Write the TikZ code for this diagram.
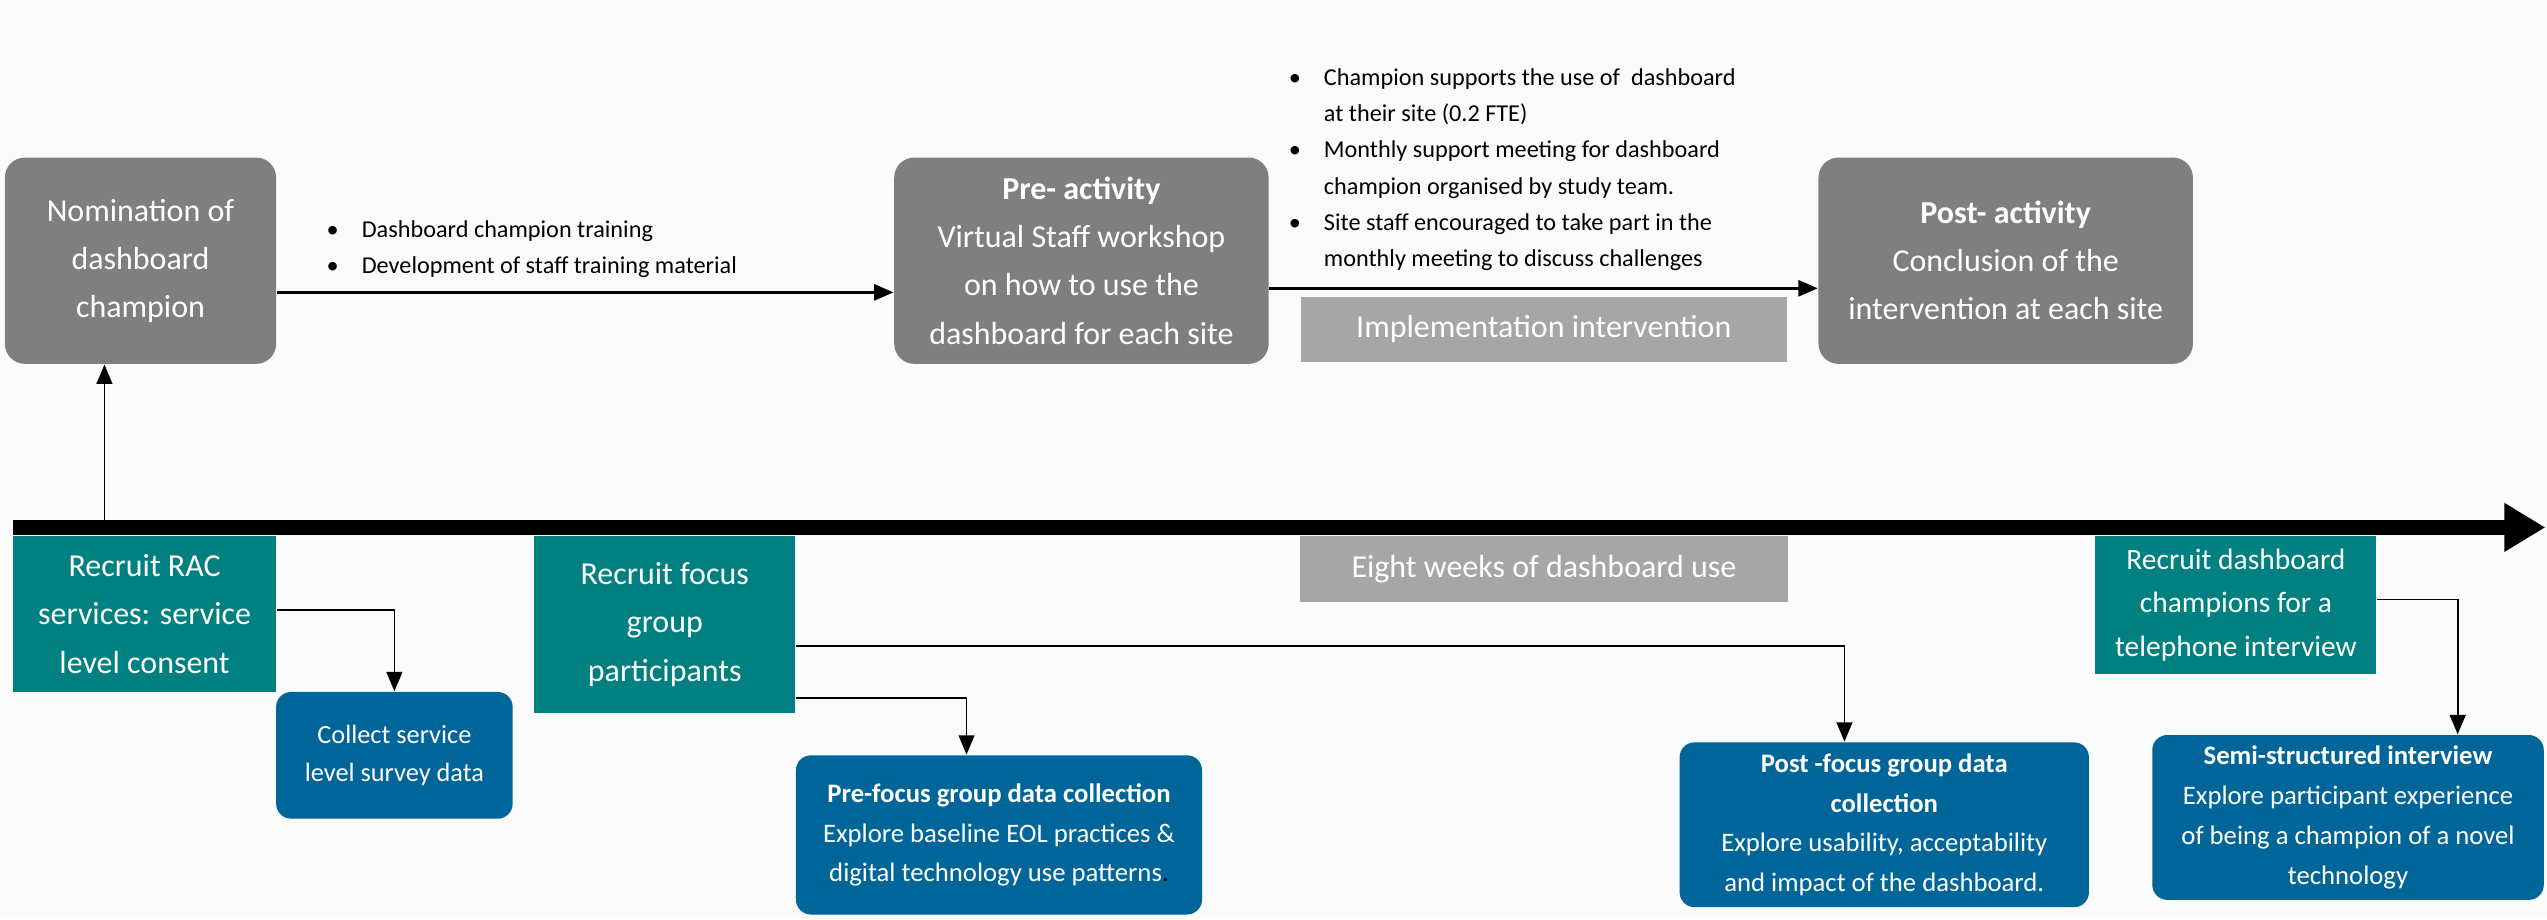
\documentclass[tikz,border=0pt]{standalone}
\usepackage{fontspec}
\setmainfont{Carlito}
\usetikzlibrary{arrows.meta}

\definecolor{stagegray}{RGB}{127,127,127}
\definecolor{periodgray}{RGB}{166,166,166}
\definecolor{recruitteal}{RGB}{0,128,128}
\definecolor{datablue}{RGB}{0,102,153}
\definecolor{paper}{RGB}{251,251,251}

\newcommand{\px}{0.016244cm}
\newcommand{\bul}{\makebox[10pt][l]{\textbullet}}
\newcommand{\bulgap}{\hspace*{10pt}}

\begin{document}
\begin{tikzpicture}[x=\px,y=-\px,
  boxwh/.style 2 args={minimum width=#1*\px,minimum height=#2*\px},
  stagebox/.style={fill=stagegray,text=white,rounded corners=0.2cm,inner sep=0pt,align=center,font=\fontsize{9.1}{13.7}\selectfont},
  periodbox/.style={fill=periodgray,text=white,inner sep=0pt,font=\fontsize{9.1}{13.7}\selectfont},
  recruitbox/.style={fill=recruitteal,text=white,inner sep=0pt,align=center,font=\fontsize{9.1}{13.7}\selectfont},
  databox/.style={fill=datablue,text=white,rounded corners=0.15cm,inner sep=0pt,align=center,font=\fontsize{7.6}{11.3}\selectfont},
  bullets/.style={inner sep=0pt,anchor=base west,align=left,font=\fontsize{6.9}{10.3}\selectfont},
  conn/.style={-{Triangle[length=5.5pt,width=4.5pt]},line width=0.5pt}]
\path[use as bounding box,fill=paper] (0,0) rectangle (1568,566);

% implementation stages
\node[stagebox,boxwh={167}{127}] (nom) at (86.5,160.5) {Nomination of\\dashboard\\champion};
\node[stagebox,boxwh={230.5}{127}] (pre) at (665.75,160.5) {\textbf{Pre- activity}\\Virtual Staff workshop\\on how to use the\\dashboard for each site};
\node[stagebox,boxwh={230.5}{127}] (post) at (1234.75,160.5) {\textbf{Post- activity}\\Conclusion of the\\intervention at each site};
\node[periodbox,boxwh={299.2}{40}] (impl) at (950.4,202.6) {Implementation intervention};
\node[periodbox,boxwh={301}{40.4}] (eight) at (950.5,350.2) {Eight weeks of dashboard use};

% notes, placed at the baseline of their last line
\node[bullets] (trainnotes) at (200.7,168.5) {\bul Dashboard champion training\\\bul Development of staff training material};
\node[bullets] (supportnotes) at (793,164) {\bul Champion supports the use of~ dashboard\\\bulgap at their site (0.2 FTE)\\\bul Monthly support meeting for dashboard\\\bulgap champion organised by study team.\\\bul Site staff encouraged to take part in the\\\bulgap monthly meeting to discuss challenges};

% recruitment and data collection
\node[recruitbox,boxwh={162}{96}] (rac) at (89,378) {Recruit RAC\\services: service\\level consent};
\node[recruitbox,boxwh={160.5}{109}] (focus) at (409.25,384.5) {Recruit focus\\group\\participants};
\node[recruitbox,boxwh={173}{85},font=\fontsize{8.4}{12.5}\selectfont] (champ) at (1376.5,372.5) {Recruit dashboard\\champions for a\\telephone interview};

\node[databox,boxwh={145.6}{78},font=\fontsize{7.5}{10.9}\selectfont] (survey) at (242.8,465) {Collect service\\level survey data};
\node[databox,boxwh={250}{98}] (prefg) at (615,514) {\textbf{Pre-focus group data collection}\\Explore baseline EOL practices \&\\digital technology use patterns\textcolor{black}{.}};
\node[databox,boxwh={252}{101.5}] (postfg) at (1160,507.75) {\textbf{Post -focus group data}\\\textbf{collection}\\Explore usability, acceptability\\and impact of the dashboard.};
\node[databox,boxwh={241}{101.5}] (interview) at (1445.5,503.25) {\textbf{Semi-structured interview}\\Explore participant experience\\of being a champion of a novel\\technology};

% timeline
\coordinate (tlstart) at (7.8,324.7);
\coordinate (tlend) at (1567,324.7);
\coordinate (tlup) at (64.3,320);
\draw[line width=9.4*\px,-{Triangle[length=0.41cm,width=0.46cm]}] (tlstart) -- (tlend);

\draw[conn,line width=0.9pt] ([yshift=-19.5*\px]nom.east) -- ([yshift=-19.5*\px]pre.west);
\draw[conn,line width=0.9pt] ([yshift=-17*\px]pre.east) -- ([yshift=-17*\px]post.west);
\draw[conn] (tlup) -- (tlup |- nom.south);
\draw[conn] ([yshift=2.4*\px]rac.east) -| (survey.north);
\draw[conn] ([yshift=-13.3*\px]focus.east) -| ([xshift=-24.5*\px]postfg.north);
\draw[conn] ([yshift=-45*\px]focus.east) -| ([xshift=-20*\px]prefg.north);
\draw[conn] ([yshift=3.5*\px]champ.east) -| ([xshift=67.5*\px]interview.north);
\end{tikzpicture}
\end{document}
